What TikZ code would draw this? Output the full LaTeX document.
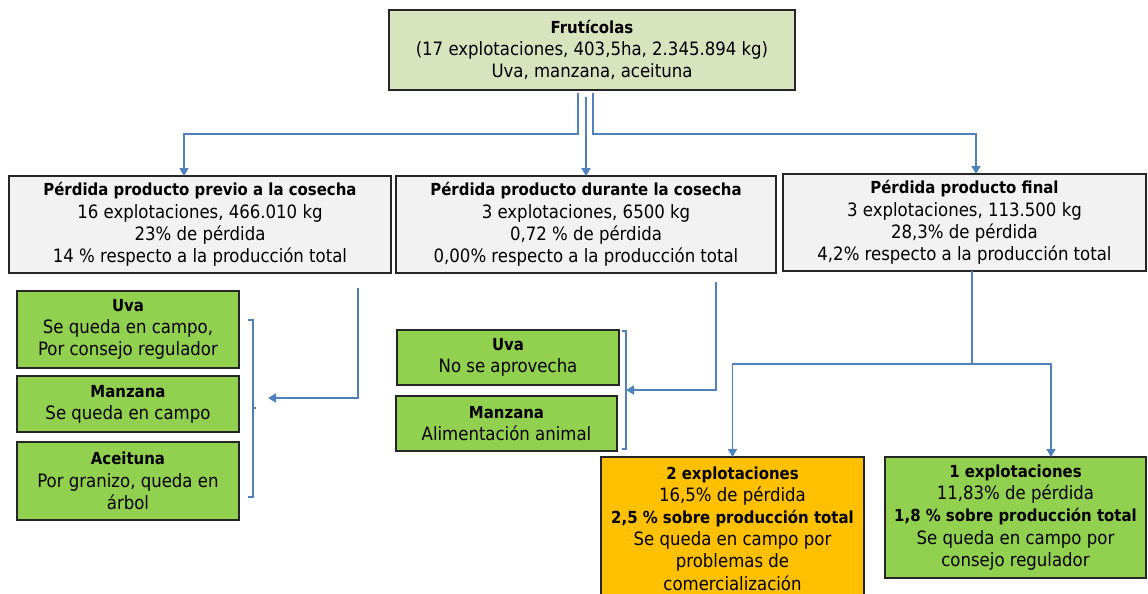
\documentclass[tikz,border=0pt]{standalone}
\usepackage{fontspec}
\setmainfont{DejaVu Sans Condensed}
\usetikzlibrary{arrows.meta,calc}
\definecolor{bordc}{HTML}{262626}
\definecolor{linec}{HTML}{4F81BD}
\definecolor{topfill}{HTML}{D7E4BD}
\definecolor{grayfill}{HTML}{F2F2F2}
\definecolor{greenfill}{HTML}{92D050}
\definecolor{orangefill}{HTML}{FFC000}
\newcommand{\fs}{\fontsize{18.4}{22.2}\selectfont}
\newcommand{\B}[1]{{\fontsize{16.6}{22.2}\selectfont\bfseries #1}}
\tikzset{
  box/.style={draw=bordc, line width=1.3pt, inner sep=0pt, outer sep=0pt, align=center, font=\fs, text=black},
  conn/.style={draw=linec, line width=1.8pt},
  arr/.style={conn, -{Triangle[width=9pt,length=8pt]}},
}
\begin{document}
\begin{tikzpicture}[x=1pt,y=-1pt]
\useasboundingbox (0,0) rectangle (1148,594);
% top
\node[box, fill=topfill, minimum width=406pt, minimum height=80pt] (top) at (592,50)
 {\B{Frutícolas}\\(17 explotaciones, 403,5ha, 2.345.894 kg)\\Uva, manzana, aceituna};
% level 2
\node[box, fill=grayfill, minimum width=382pt, minimum height=97pt] (b1) at (200,224.5)
 {\B{Pérdida producto previo a la cosecha}\\16 explotaciones, 466.010 kg\\23\% de pérdida\\14 \% respecto a la producción total};
\node[box, fill=grayfill, minimum width=380pt, minimum height=97pt] (b2) at (586,224.5)
 {\B{Pérdida producto durante la cosecha}\\3 explotaciones, 6500 kg\\0,72 \% de pérdida\\0,00\% respecto a la producción total};
\node[box, fill=grayfill, minimum width=363pt, minimum height=97pt] (b3) at (964.5,222.5)
 {\B{Pérdida producto final}\\3 explotaciones, 113.500 kg\\28,3\% de pérdida\\4,2\% respecto a la producción total};
% left group
\node[box, fill=greenfill, minimum width=222pt, minimum height=77pt] (l1) at (128,329.5)
 {\B{Uva}\\Se queda en campo,\\Por consejo regulador};
\node[box, fill=greenfill, minimum width=222pt, minimum height=56pt] (l2) at (128,404)
 {\B{Manzana}\\Se queda en campo};
\node[box, fill=greenfill, minimum width=222pt, minimum height=78pt] (l3) at (128,481)
 {\B{Aceituna}\\Por granizo, queda en\\árbol};
% middle group
\node[box, fill=greenfill, minimum width=222pt, minimum height=55pt] (m1) at (508,357.5)
 {\B{Uva}\\No se aprovecha};
\node[box, fill=greenfill, minimum width=221pt, minimum height=55pt] (m2) at (506.5,423.5)
 {\B{Manzana}\\Alimentación animal};
% bottom right
\node[box, fill=orangefill, minimum width=263pt, minimum height=143pt] (o1) at (732.5,528.5)
 {\B{2 explotaciones}\\16,5\% de pérdida\\\B{2,5 \% sobre producción total}\\Se queda en campo por\\problemas de\\comercialización};
\node[box, fill=greenfill, minimum width=261pt, minimum height=121pt] (g1) at (1015.5,517.5)
 {\B{1 explotaciones}\\11,83\% de pérdida\\\B{1,8 \% sobre producción total}\\Se queda en campo por\\consejo regulador};
% brackets
\coordinate (br1) at (256,408);
\coordinate (br2) at (626,390);
\draw[conn, line width=1.2pt] (248,320) -- (253,320) -- (253,497) -- (248,497) (253,408) -- (br1);
\draw[conn, line width=1.2pt] (622,331) -- (626,331) -- (626,449) -- (622,449);
% top connectors
\draw[arr] ($(top.south)+(-14,3)$) -- ++(0,41) -| ($(b1.north)+(-16,0)$);
\draw[arr] ($(b2.north |- top.south)+(0,7)$) -- (b2.north);
\draw[arr] ($(top.south)+(1,3)$) -- ++(0,41) -| ($(b3.north)+(11.5,0)$);
% left arrows
\coordinate (a1s) at (358,288);
\coordinate (a1e) at (268,398);
\draw[arr] (a1s) |- (a1e);
\coordinate (a2s) at (716,282);
\draw[arr] (a2s) |- (br2);
% box3 split
\coordinate (s3) at ($(b3.south)+(7.5,0)$);
\coordinate (j3) at ($(s3)+(0,93)$);
\draw[conn] (s3) -- (j3);
\draw[arr] (j3) -| (o1.north);
\draw[arr] (j3) -| ($(g1.north)+(35.5,0)$);
\end{tikzpicture}
\end{document}
